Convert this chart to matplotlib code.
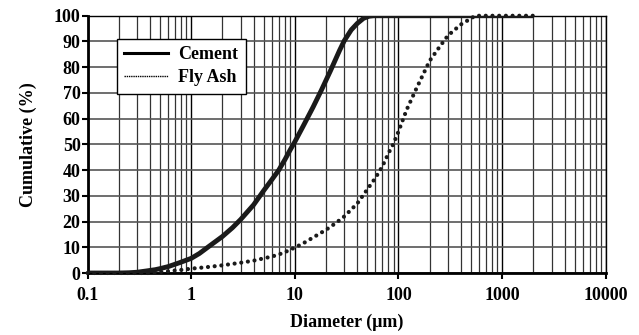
""" Cumulative particle size distribution of cement and fly ash """

import matplotlib
matplotlib.use( 'Agg' )
import matplotlib.pyplot as plt
from matplotlib.lines import Line2D
from matplotlib.ticker import LogLocator , FixedLocator , NullFormatter , FixedFormatter

### Data
cement_d = [ 0.1 , 0.2 , 0.25 , 0.3 , 0.37 , 0.45 , 0.5 , 0.6 , 0.77 , 1.0 , 1.2 , 1.5 , 2.0 , 2.5 , 3.0 ,
             4.0 , 5.0 , 6.0 , 7.0 , 8.0 , 9.0 , 10.0 , 12.0 , 15.0 , 18.0 , 22.0 , 27.0 , 30.0 , 35.0 ,
             40.0 , 46.0 , 52.0 , 58.0 , 100.0 , 2000.0 ]
cement_cum = [ 0.0 , 0.0 , 0.1 , 0.3 , 0.8 , 1.3 , 1.7 , 2.5 , 4.0 , 5.7 , 7.6 , 10.5 , 14.2 , 17.6 , 20.8 ,
               26.5 , 32.0 , 36.3 , 40.0 , 44.0 , 47.8 , 51.0 , 57.0 , 64.5 , 71.0 , 78.5 , 86.5 , 90.3 , 94.5 ,
               97.0 , 99.0 , 99.8 , 100.0 , 100.0 , 100.0 ]

flyash_d = [ 0.1 , 0.4 , 0.5 , 0.6 , 0.7 , 0.8 , 1.0 , 1.5 , 2.0 , 3.0 , 4.0 , 5.0 , 6.0 , 7.0 , 8.0 ,
             10.0 , 12.0 , 15.0 , 20.0 , 25.0 , 30.0 , 40.0 , 50.0 , 60.0 , 70.0 , 80.0 , 90.0 , 100.0 ,
             120.0 , 150.0 , 200.0 , 250.0 , 300.0 , 400.0 , 480.0 , 550.0 , 2000.0 ]
flyash_cum = [ 0.0 , 0.0 , 0.4 , 0.7 , 1.0 , 1.2 , 1.7 , 2.4 , 3.0 , 4.0 , 4.8 , 5.7 , 6.4 , 7.2 , 8.1 ,
               9.9 , 11.5 , 13.8 , 16.8 , 19.5 , 22.0 , 27.0 , 32.5 , 37.0 , 41.5 , 46.5 , 50.5 , 55.0 ,
               63.5 , 72.0 , 82.5 , 88.0 , 92.3 , 96.6 , 98.5 , 100.0 , 100.0 ]

x_ticks = [ 0.1 , 1 , 10 , 100 , 1000 , 10000 ]
x_tick_labels = [ '0.1' , '1' , '10' , '100' , '1000' , '10000' ]
y_ticks = [ 0 , 10 , 20 , 30 , 40 , 50 , 60 , 70 , 80 , 90 , 100 ]

### Fonts
plt.rcParams[ 'font.family' ] = [ 'Liberation Serif' , 'DejaVu Serif' ]
plt.rcParams[ 'font.weight' ] = 'bold'
plt.rcParams[ 'axes.labelweight' ] = 'bold'

fig = plt.figure( figsize = ( 6.39 , 3.35 ) , dpi = 100 )
ax = fig.add_axes( [ 0.137 , 0.185 , 0.811 , 0.768 ] )

ax.set_xscale( 'log' )
ax.set_xlim( 0.1 , 10000 )
ax.set_ylim( 0 , 100 )

### Grid
ax.xaxis.set_major_locator( FixedLocator( x_ticks ) )
ax.xaxis.set_major_formatter( FixedFormatter( x_tick_labels ) )
ax.xaxis.set_minor_locator( LogLocator( base = 10 , subs = range( 2 , 10 ) ) )
ax.xaxis.set_minor_formatter( NullFormatter() )
ax.yaxis.set_major_locator( FixedLocator( y_ticks ) )

ax.grid( True , which = 'major' , axis = 'x' , color = 'black' , lw = 1.0 )
ax.grid( True , which = 'minor' , axis = 'x' , color = '#333333' , lw = 0.9 )
ax.grid( True , which = 'major' , axis = 'y' , color = '#555555' , lw = 1.2 )
ax.set_axisbelow( True )

### Curves
ax.plot( cement_d , cement_cum , color = '#1a1a1a' , lw = 3.5 , solid_capstyle = 'butt' ,
         solid_joinstyle = 'round' , zorder = 3 )
ax.plot( flyash_d , flyash_cum , color = '#1a1a1a' , lw = 3.0 , linestyle = ( 0 , ( 0.01 , 1.6 ) ) ,
         dash_capstyle = 'round' , clip_on = False , zorder = 3 )

### Spines and ticks
for side in [ 'left' , 'bottom' ]:
    ax.spines[ side ].set_linewidth( 2.0 )
for side in [ 'top' , 'right' ]:
    ax.spines[ side ].set_linewidth( 1.0 )
ax.tick_params( axis = 'both' , which = 'major' , direction = 'out' , length = 4 , width = 1.5 ,
                labelsize = 13 )
ax.tick_params( axis = 'x' , which = 'major' , pad = 6 )
ax.tick_params( axis = 'y' , which = 'major' , pad = 1 )
ax.tick_params( axis = 'x' , which = 'minor' , length = 0 )
for label in ax.get_xticklabels() + ax.get_yticklabels():
    label.set_fontweight( 'bold' )

ax.set_xlabel( 'Diameter (μm)' , fontsize = 13 , fontweight = 'bold' , labelpad = 7 )
ax.set_ylabel( 'Cumulative (%)' , fontsize = 13 , fontweight = 'bold' , labelpad = 12 )

### Legend
handles = [ Line2D( [ 0 ] , [ 0 ] , color = 'black' , lw = 2.2 ) ,
            Line2D( [ 0 ] , [ 0 ] , color = 'black' , lw = 1.0 , linestyle = ( 0 , ( 1 , 0.6 ) ) ) ]
leg = ax.legend( handles , [ 'Cement' , 'Fly Ash' ] , loc = 'upper left' ,
                 bbox_to_anchor = ( 0.057 , 0.91 ) , fancybox = False , framealpha = 1 ,
                 edgecolor = 'black' , handlelength = 2.4 , handletextpad = 0.6 ,
                 borderpad = 0.4 , labelspacing = 0.35 , borderaxespad = 0 ,
                 prop = { 'size' : 13 , 'weight' : 'bold' } )
leg.get_frame().set_linewidth( 1.0 )

fig.savefig( 'out.png' , dpi = 100 )
